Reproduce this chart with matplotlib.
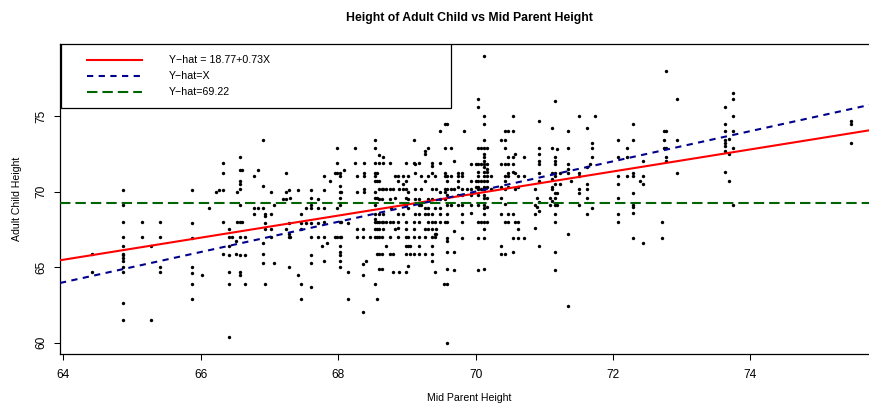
import matplotlib
matplotlib.use("Agg")
import matplotlib.pyplot as plt
from matplotlib.lines import Line2D
from matplotlib.patches import Rectangle

plt.rcParams["font.family"] = ["Liberation Sans", "DejaVu Sans"]

# mid parent height of each family column, and the adult child heights in it
mid_parent = [
    64.41, 64.87, 65.15, 65.27, 65.41, 65.87, 66.02, 66.12, 66.22, 66.27,
    66.33, 66.41, 66.45, 66.52, 66.53, 66.57, 66.60, 66.65, 66.78, 66.83,
    66.91, 66.94, 67.02, 67.07, 67.19, 67.24, 67.28, 67.30, 67.41, 67.46,
    67.53, 67.61, 67.70, 67.76, 67.80, 67.84, 67.88, 67.95, 67.99, 68.02,
    68.04, 68.08, 68.15, 68.24, 68.27, 68.36, 68.38, 68.41, 68.46, 68.53,
    68.57, 68.60, 68.64, 68.66, 68.70, 68.75, 68.77, 68.80, 68.83, 68.87,
    68.89, 68.94, 68.99, 69.02, 69.04, 69.10, 69.12, 69.18, 69.21, 69.26,
    69.31, 69.37, 69.41, 69.43, 69.48, 69.54, 69.56, 69.58, 69.64, 69.69,
    69.75, 69.81, 69.83, 69.88, 69.94, 70.01, 70.04, 70.08, 70.12, 70.16,
    70.23, 70.37, 70.43, 70.48, 70.54, 70.58, 70.62, 70.70, 70.87, 70.89,
    70.93, 71.09, 71.12, 71.16, 71.19, 71.23, 71.35, 71.39, 71.51, 71.62,
    71.66, 71.70, 71.74, 72.08, 72.20, 72.29, 72.39, 72.44, 72.71, 72.75,
    72.78, 72.93, 73.63, 73.69, 73.75, 75.46,
]
child = [
    [65.9, 64.7],
    [70.1, 69.1, 68.0, 67.0, 66.4, 65.9, 65.8, 65.6, 65.4, 65.0, 64.7, 62.6, 61.5],
    [68.0, 67.0],
    [66.4, 61.5],
    [68.0, 67.0, 65.0, 64.7],
    [70.1, 67.9, 66.9, 65.0, 64.6, 63.9, 62.9],
    [64.5],
    [68.9],
    [70.0],
    [70.1],
    [71.9, 71.2, 70.1, 68.0, 65.9],
    [67.5, 67.0, 66.4, 65.8, 64.7, 63.9, 60.4],
    [67.0],
    [66.7, 65.9],
    [70.0, 68.0],
    [72.3, 71.4, 70.7, 70.5, 70.2, 69.1, 68.0, 67.0, 65.8, 64.7, 64.5],
    [71.4, 68.0],
    [67.0, 65.8, 63.9],
    [71.0, 68.9, 68.5],
    [71.4, 68.9],
    [73.4, 70.4, 68.9, 66.6, 65.9, 65.3],
    [68.5, 68.4, 67.9, 67.5, 63.9],
    [70.0, 68.5, 67.5, 67.0],
    [69.1, 65.3],
    [69.5],
    [71.2, 70.0, 69.5, 67.5],
    [70.1, 67.9, 67.2, 67.0, 65.0],
    [69.6, 67.0],
    [70.1, 64.5],
    [68.5, 67.9, 67.5, 63.9, 62.9],
    [68.9, 67.9],
    [70.1, 69.6, 69.1, 68.9, 67.9, 67.0, 65.8, 65.3, 63.7],
    [69.5, 68.9, 67.9, 67.0],
    [66.4],
    [71.0, 70.1, 68.9, 68.0, 67.0, 65.4],
    [66.6],
    [70.7],
    [71.2, 67.0],
    [72.9, 71.9, 71.2, 68.9, 67.0],
    [71.2, 71.0, 70.4, 70.0, 69.6, 69.1, 68.0, 67.0, 66.4, 66.0, 65.8, 65.4, 65.0],
    [70.0, 68.0, 67.0],
    [71.4],
    [67.9, 64.7, 62.9],
    [72.9, 71.9],
    [71.0, 70.0, 67.5, 67.0],
    [67.5, 67.0, 65.2, 64.5, 62.0],
    [71.9, 71.2, 71.0, 70.2, 70.0],
    [65.4],
    [67.0],
    [73.4, 72.9, 71.9, 71.2, 71.0, 70.7, 70.0, 69.6, 69.1, 68.5, 68.2, 68.0, 67.5, 67.0, 63.9],
    [71.2, 70.7, 69.6, 68.0, 67.5, 67.0, 65.9, 62.9],
    [72.4, 71.9, 70.7, 70.2, 69.5, 68.5, 68.0, 67.5, 67.0, 65.9, 64.9],
    [70.2, 69.5, 68.0, 67.0, 65.9, 64.9],
    [72.3, 71.9, 70.2, 68.5, 68.0, 67.5],
    [70.2, 68.0, 66.4],
    [71.9, 70.2, 69.5, 68.0, 67.0, 65.9],
    [68.9],
    [70.2, 68.0, 65.9, 64.7],
    [71.0, 69.6, 67.5],
    [71.0, 70.7, 68.5, 68.0, 67.6, 67.0],
    [70.2, 64.7],
    [71.0, 70.5, 70.2, 68.5],
    [71.9, 70.7, 70.2, 69.6, 69.1, 68.0, 67.5, 67.0, 66.4, 65.9, 64.7],
    [71.0, 70.0, 69.5, 68.9, 67.0, 66.4, 65.1],
    [66.4, 65.9],
    [73.4, 71.9, 68.0, 67.5, 67.0, 65.9],
    [71.8, 71.2, 70.2, 69.5, 68.5],
    [71.9, 69.5, 69.1, 68.5, 68.0, 67.0, 66.4, 65.9],
    [71.0, 70.2, 69.1],
    [72.7, 72.5, 70.7, 68.9, 68.5, 67.5, 67.0, 65.9],
    [72.9, 71.0, 69.5, 68.9, 68.5, 68.0, 67.5],
    [71.9, 71.7, 71.2, 70.2, 69.5, 68.5, 68.0, 67.5, 67.0, 66.4, 65.9, 65.4],
    [71.0, 68.9, 68.0, 67.2, 67.0, 64.7],
    [70.2, 67.5, 67.2],
    [74.0, 71.9, 70.0, 69.5, 68.9, 68.5, 68.0],
    [63.9],
    [74.5, 72.9, 71.2, 71.0, 70.2, 70.0, 69.5, 68.0],
    [74.5, 71.0, 70.7, 70.2, 69.8, 69.1, 68.5, 68.0, 66.9, 66.7, 66.0, 64.9, 63.9, 60.0],
    [72.9, 71.0, 70.2, 69.1],
    [72.0, 70.2, 67.4, 66.0, 64.8],
    [71.2, 71.0, 70.7, 70.3, 69.8, 69.1],
    [71.2, 71.0, 70.2, 69.8, 69.1, 68.5, 68.0, 66.9],
    [74.0],
    [70.2],
    [71.8, 70.7, 70.2, 69.8, 69.1, 68.6],
    [71.8, 70.7, 70.3],
    [76.1, 75.6, 72.9, 71.8, 71.3, 71.0, 70.7, 70.3, 70.2, 69.8, 69.1, 68.0, 66.9, 64.8],
    [72.9, 71.8, 70.7, 70.2, 68.0],
    [79.0, 75.0, 74.5, 73.4, 72.9, 72.5, 72.3, 72.0, 71.8, 71.6, 71.3, 71.0, 70.7,
     70.3, 70.2, 69.8, 69.6, 69.1, 68.9, 68.5, 68.0, 67.5, 66.9, 64.9],
    [72.9, 71.8, 71.5, 71.3, 71.0, 70.7, 70.3, 69.6, 69.0, 68.0],
    [71.0, 70.2],
    [73.4, 71.8, 70.3, 69.6, 68.5, 66.4, 65.9],
    [74.0, 73.4, 72.9, 71.8, 71.0, 70.7, 70.2, 69.2, 68.0, 65.9],
    [74.0, 72.3, 71.8, 71.2, 71.0, 70.3, 68.5, 68.0],
    [75.0, 74.0, 72.3, 71.8, 71.3, 68.5, 66.9, 66.0],
    [72.5, 71.2, 70.2, 68.0],
    [71.0, 70.3, 68.0, 67.5, 66.9],
    [72.3, 71.0, 66.9],
    [70.2, 69.1, 68.5, 67.6],
    [69.6, 69.0],
    [74.7, 72.9, 72.5, 72.0, 71.8, 71.2, 70.7, 69.3, 68.7, 66.4],
    [69.6, 69.1],
    [74.2, 72.9, 71.2, 70.8, 70.3, 70.2, 69.4],
    [76.0, 72.3, 72.0, 71.8, 71.2, 71.0, 70.5, 69.9, 69.6, 69.1, 68.5, 68.0, 66.0, 64.8],
    [72.8, 69.9, 69.1],
    [71.2, 70.5],
    [74.0, 72.9, 71.8, 71.5, 71.2, 67.2, 62.4],
    [70.7],
    [75.0, 71.2, 71.0, 70.2, 69.9, 69.1],
    [74.2, 71.6, 70.5, 70.2, 69.6, 68.5],
    [71.8],
    [73.2, 72.9, 72.3, 68.9],
    [75.0],
    [73.4, 72.3, 71.0, 70.5, 69.6, 68.5, 68.0],
    [72.9, 72.3, 71.0],
    [74.5, 73.4, 71.2, 71.0, 69.9, 69.1, 69.0, 68.6, 66.9],
    [70.7],
    [72.0, 71.0, 70.5, 66.6],
    [68.0, 66.9],
    [74.0, 73.4, 72.9],
    [78.0, 74.0, 72.9, 72.3, 72.0],
    [76.1, 73.4, 71.2],
    [75.6, 74.5, 74.0, 73.4, 73.2, 73.0, 72.7, 71.3],
    [73.5, 72.5, 70.7],
    [76.5, 76.1, 75.0, 74.0, 72.9, 69.1],
    [74.7, 74.5, 73.2],
]

# fitted lines shown in the legend
intercept, slope = 18.77, 0.73
mean_child = 69.22
legend_labels = ["Y\u2212hat = 18.77+0.73X", "Y\u2212hat=X", "Y\u2212hat=69.22"]

xs = [x for x, ys in zip(mid_parent, child) for _ in ys]
ys = [y for col in child for y in col]

fig = plt.figure(figsize=(8.69, 4.08), dpi=100)
ax = fig.add_axes([0.069, 0.1316, 0.9422, 0.761])

ax.scatter(xs, ys, s=6, color="black", linewidths=0, zorder=3)

xlim = (63.95, 75.87)
ax.set_xlim(xlim)
ax.set_ylim(59.23, 79.78)

red = dict(color="red", lw=1.5, ls="-")
blue = dict(color="#00008B", lw=1.5, ls=(0, (3.0, 2.6)))
green = dict(color="#006400", lw=1.5, ls=(0, (5.0, 2.4)))
ax.plot(xlim, [intercept + slope * x for x in xlim], **red, zorder=4)
ax.plot(xlim, xlim, **blue, zorder=4)
ax.plot(xlim, [mean_child, mean_child], **green, zorder=4)

ax.set_xticks([64, 66, 68, 70, 72, 74])
ax.set_yticks([60, 65, 70, 75])
ax.tick_params(axis="both", labelsize=8.6, length=4.3, width=0.75, direction="out")
ax.tick_params(axis="x", pad=6.5)
ax.tick_params(axis="y", pad=5)
for lab in ax.get_yticklabels():
    lab.set_rotation(90)
    lab.set_va("center")
for sp in ax.spines.values():
    sp.set_linewidth(0.9)

# legend box drawn the way R places it in the top left corner
ax.add_patch(Rectangle((0.001, 0.794), 0.477, 0.206, transform=ax.transAxes,
                       facecolor="white", edgecolor="black", lw=0.9, zorder=5))
rows = [0.948, 0.897, 0.844]
for yy, sty, lab in zip(rows, [red, blue, green], legend_labels):
    ax.add_line(Line2D([0.0326, 0.1005], [yy, yy], transform=ax.transAxes, zorder=6, **sty))
    ax.text(0.1335, yy, lab, transform=ax.transAxes, fontsize=7.7, va="center", zorder=6)

fig.text(469 / 869, 1 - 18 / 408, "Height of Adult Child vs Mid Parent Height",
         ha="center", va="center", fontsize=8.8, fontweight="bold")
fig.text(469 / 869, 1 - 398 / 408, "Mid Parent Height", ha="center", va="center", fontsize=7.6)
fig.text(17 / 869, 1 - 199 / 408, "Adult Child Height", ha="center", va="center",
         rotation=90, fontsize=7.6)

fig.savefig("out.png", dpi=100)
